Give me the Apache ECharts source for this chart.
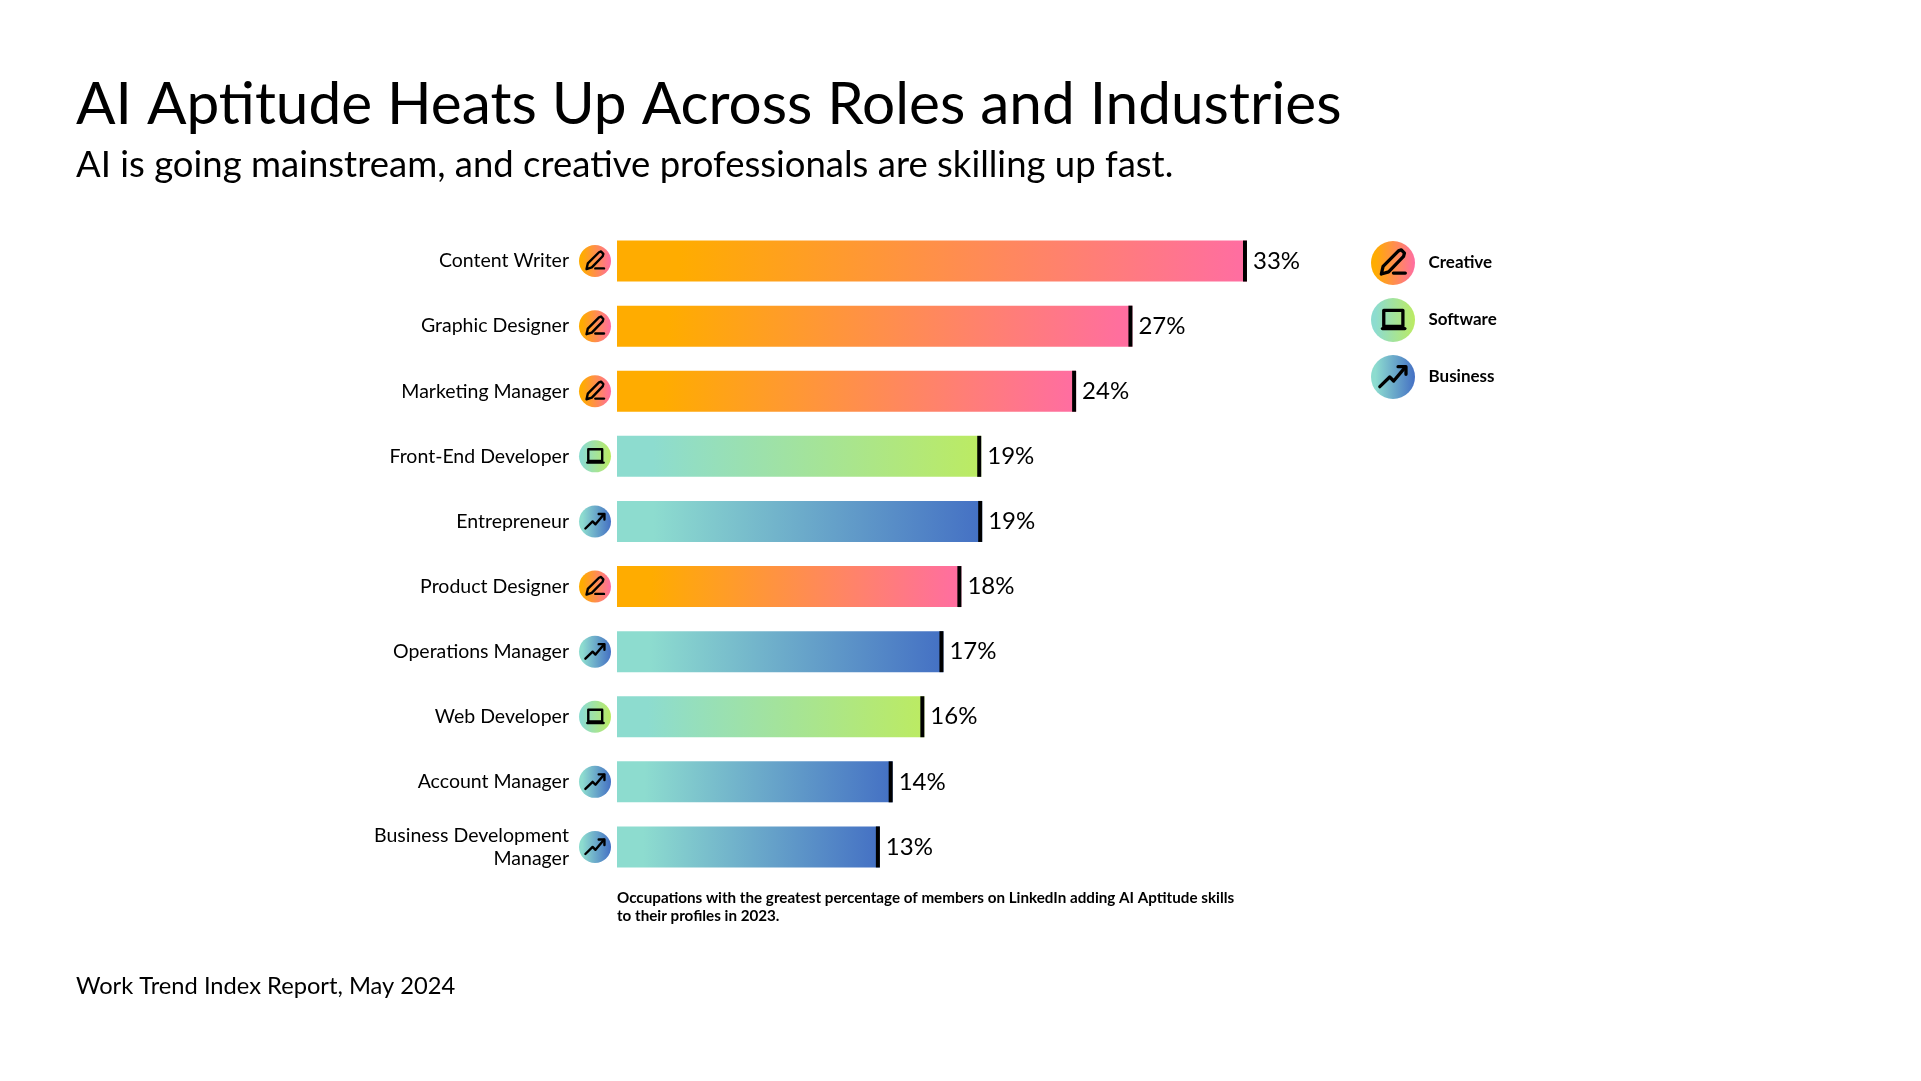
<!DOCTYPE html>
<html lang="en">
<head>
    <meta charset="UTF-8">
    <title>AI Aptitude Heats Up Across Roles and Industries</title>
    <script src="https://cdn.jsdelivr.net/npm/echarts@6/dist/echarts.min.js"></script>
    <style>
        html, body { margin: 0; padding: 0; background: #fff; }
        #main { width: 1921px; height: 1081px; }
    </style>
</head>
<body>
<div id="main"></div>
<script type="text/javascript">
    var categories = ['Content Writer', 'Graphic Designer', 'Marketing Manager', 'Front-End Developer', 'Entrepreneur',
        'Product Designer', 'Operations Manager', 'Web Developer', 'Account Manager', 'Business Development\nManager'];
    // bar lengths, the printed labels are rounded differently
    var barValues = [33, 27, 24.05, 19.08, 19.13, 18.04, 17.1, 16.1, 14.44, 13.77];
    var barLabels = ['33%', '27%', '24%', '19%', '19%', '18%', '17%', '16%', '14%', '13%'];
    var barGroups = ['Creative', 'Creative', 'Creative', 'Software', 'Business', 'Creative', 'Business', 'Software', 'Business', 'Business'];
    var groupNames = ['Creative', 'Software', 'Business'];

    var FONT = 'Lato, sans-serif';
    var gradients = {
        Creative: ['#FFAC00', '#FF6DA2'],
        Software: ['#8DDCCF', '#BCEB62'],
        Business: ['#8DDCCF', '#4470C4']
    };

    function grad(group) {
        return new echarts.graphic.LinearGradient(0, 0, 1, 0, [
            {offset: 0, color: gradients[group][0]},
            {offset: 0.1, color: gradients[group][0]},
            {offset: 1, color: gradients[group][1]}
        ]);
    }

    // glyph strokes in units of the badge radius
    var glyphs = {
        Creative: [
            [[-0.53, 0.5], [-0.45, 0.15], [0.25, -0.55], [0.38, -0.6], [0.52, -0.45], [0.48, -0.3], [-0.2, 0.4], [-0.53, 0.5]],
            [[0.02, 0.46], [0.56, 0.46]]
        ],
        Software: [
            [[-0.42, 0.29], [-0.42, -0.44], [0.45, -0.44], [0.45, 0.29], [-0.42, 0.29]],
            [[-0.48, 0.39], [0.54, 0.39]]
        ],
        Business: [
            [[-0.6, 0.44], [-0.15, 0], [0.03, 0.18], [0.56, -0.45]],
            [[0.23, -0.47], [0.59, -0.47], [0.59, -0.12]]
        ]
    };

    function badge(group, cx, cy, r) {
        var children = [{
            type: 'circle',
            shape: {cx: cx, cy: cy, r: r},
            style: {fill: grad(group)}
        }];
        glyphs[group].forEach(function (stroke) {
            children.push({
                type: 'polyline',
                shape: {
                    points: stroke.map(function (p) {
                        return [cx + p[0] * r, cy + p[1] * r];
                    })
                },
                style: {fill: 'none', stroke: '#000', lineWidth: r * 0.15, lineJoin: 'round', lineCap: 'round'}
            });
        });
        return {type: 'group', children: children};
    }

    var legendY = [263, 320, 377];
    var legendItems = [];
    groupNames.forEach(function (name, i) {
        legendItems.push(badge(name, 1393, legendY[i], 22));
        legendItems.push({
            type: 'text',
            style: {
                text: name, x: 1428.5, y: legendY[i], fill: '#000', textVerticalAlign: 'middle',
                fontFamily: FONT, fontSize: 17, fontWeight: 700
            }
        });
    });

    var option = {
        animation: false,
        backgroundColor: '#fff',
        textStyle: {fontFamily: FONT},
        title: [
            {
                text: 'AI Aptitude Heats Up Across Roles and Industries', left: 76, top: 76, padding: 0,
                textStyle: {fontFamily: FONT, fontSize: 58.5, fontWeight: 400, color: '#000'}
            },
            {
                text: 'AI is going mainstream, and creative professionals are skilling up fast.', left: 76, top: 147, padding: 0,
                textStyle: {fontFamily: FONT, fontSize: 36.5, fontWeight: 400, color: '#000'}
            },
            {
                text: 'Occupations with the greatest percentage of members on LinkedIn adding AI Aptitude skills\nto their profiles in 2023.',
                left: 617, top: 889, padding: 0,
                textStyle: {fontFamily: FONT, fontSize: 15.2, fontWeight: 700, color: '#000', lineHeight: 18.3}
            },
            {
                text: 'Work Trend Index Report, May 2024', left: 76, top: 974, padding: 0,
                textStyle: {fontFamily: FONT, fontSize: 23.7, fontWeight: 400, color: '#000'}
            }
        ],
        grid: {left: 617, top: 228.5, width: 763.6, height: 651},
        xAxis: {type: 'value', min: 0, max: 40, show: false},
        yAxis: {
            type: 'category',
            inverse: true,
            data: categories,
            axisLine: {show: false},
            axisTick: {show: false},
            axisLabel: {margin: 48, color: '#000', fontFamily: FONT, fontSize: 19.5, lineHeight: 23, align: 'right'}
        },
        series: [
            {
                type: 'bar',
                barWidth: 41,
                data: barValues.map(function (v, i) {
                    return {value: v, itemStyle: {color: grad(barGroups[i])}};
                }),
                label: {
                    show: true,
                    position: 'right',
                    distance: 6,
                    color: '#000',
                    fontFamily: FONT,
                    fontSize: 24,
                    formatter: function (p) {
                        return barLabels[p.dataIndex];
                    }
                }
            },
            {
                // black end cap of each bar
                type: 'custom',
                z: 3,
                data: barValues.map(function (v, i) {
                    return [v, i];
                }),
                encode: {x: 0, y: 1},
                renderItem: function (params, api) {
                    var end = api.coord([api.value(0), api.value(1)]);
                    return {
                        type: 'rect',
                        shape: {x: end[0] - 4, y: end[1] - 20.5, width: 4, height: 41},
                        style: {fill: '#000'}
                    };
                }
            },
            {
                // category badges left of the bars
                type: 'custom',
                z: 3,
                data: barGroups.map(function (g, i) {
                    return [0, i];
                }),
                encode: {x: 0, y: 1},
                renderItem: function (params, api) {
                    var base = api.coord([api.value(0), api.value(1)]);
                    return badge(barGroups[params.dataIndex], base[0] - 22, base[1], 16);
                }
            }
        ],
        graphic: {elements: legendItems}
    };

    var myChart = echarts.init(document.getElementById('main'));
    myChart.setOption(option);
</script>
</body>
</html>
